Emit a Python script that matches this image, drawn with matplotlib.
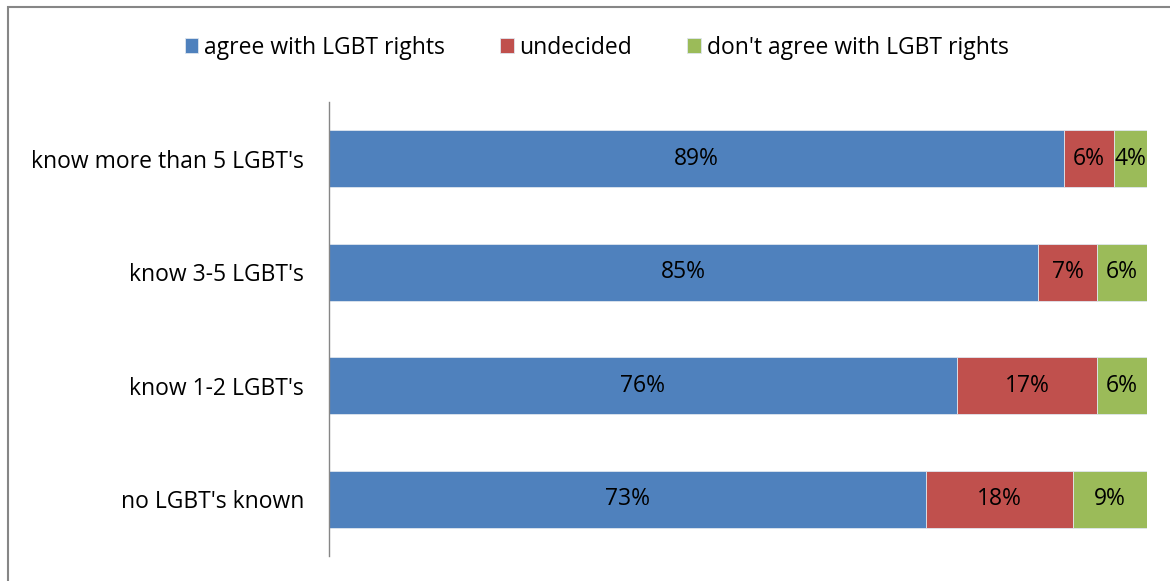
import matplotlib.pyplot as plt
from matplotlib.patches import Rectangle

plt.rcParams['font.family'] = ['Open Sans', 'DejaVu Sans']

categories = ["no LGBT's known", "know 1-2 LGBT's", "know 3-5 LGBT's", "know more than 5 LGBT's"]
series_names = ["agree with LGBT rights", "undecided", "don't agree with LGBT rights"]
agree = [73, 76, 85, 89]
undecided = [18, 17, 7, 6]
disagree = [9, 6, 6, 4]
colors = ["#4F81BD", "#C0504D", "#9BBB59"]

fs = 16.5

fig = plt.figure(figsize=(11.7, 5.81), dpi=100)
ax = fig.add_axes([0.2812, 0.0430, 0.6991, 0.7814])

# 100% stacked: each row is scaled to its own total
totals = [a + u + d for a, u, d in zip(agree, undecided, disagree)]
left = [0.0] * len(categories)
handles = []
for vals, name, col in zip([agree, undecided, disagree], series_names, colors):
    shares = [v / t for v, t in zip(vals, totals)]
    bars = ax.barh(range(len(categories)), shares, left=left, height=0.5,
                   color=col, edgecolor='#dfe6ee', linewidth=0.6, label=name)
    handles.append(bars)
    for i, (s, v) in enumerate(zip(shares, vals)):
        ax.text(left[i] + s / 2, i, f"{v}%", ha='center', va='center',
                fontsize=fs, color='black')
    left = [l + s for l, s in zip(left, shares)]

ax.set_xlim(0, 1)
ax.set_ylim(-0.5, len(categories) - 0.5)
ax.set_yticks(range(len(categories)))
ax.set_yticklabels(categories, fontsize=fs)
ax.tick_params(axis='y', length=0, pad=18)
ax.set_xticks([])
for sp in ['top', 'right', 'bottom']:
    ax.spines[sp].set_visible(False)
ax.spines['left'].set_color('#868686')
ax.spines['left'].set_linewidth(1.0)

fig.legend(handles=handles, labels=series_names, loc='center',
           bbox_to_anchor=(0.51, 0.918), ncol=3, frameon=False,
           fontsize=fs, handlelength=0.6, handleheight=0.6,
           handletextpad=0.25, columnspacing=2.4)

# chart border (clipped on right and bottom like the source)
fig.patches.append(Rectangle((8 / 1170, -0.05), 1.2, 1 - 7 / 581 + 0.05,
                             transform=fig.transFigure, fill=False,
                             edgecolor='#868686', linewidth=1.5))

fig.savefig('out.png', dpi=100)
